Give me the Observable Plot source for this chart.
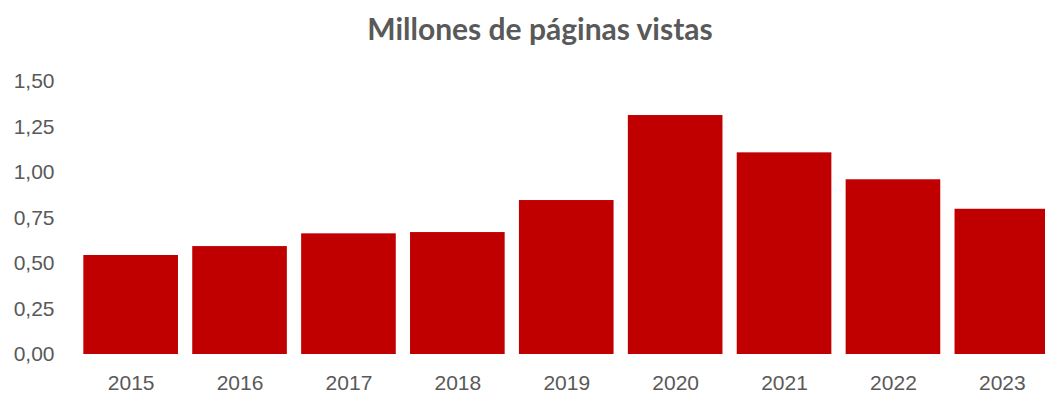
<!DOCTYPE html>
<html>
<head>
<meta charset="utf-8">
<script src="https://cdn.jsdelivr.net/npm/d3@7"></script>
<script src="https://cdn.jsdelivr.net/npm/@observablehq/plot@0.6"></script>
<style>
  html, body { margin: 0; padding: 0; background: #fff; }
  #wrap { width: 1045px; height: 394px; overflow: hidden; position: relative; }
  #title {
    position: relative; width: 1045px; height: 60px; box-sizing: border-box;
    padding-left: 35px; text-align: center;
    font-family: Lato, "Liberation Sans", sans-serif; font-weight: bold;
    font-size: 30px; color: #595959; line-height: 1;
  }
  #title span { position: relative; top: 13px; }
  svg { display: block; }
</style>
</head>
<body>
<div id="wrap">
  <div id="title"><span>Millones de páginas vistas</span></div>
  <div id="chart"></div>
</div>
<script>
const years = ["2015", "2016", "2017", "2018", "2019", "2020", "2021", "2022", "2023"];
const values = [0.544, 0.593, 0.663, 0.670, 0.846, 1.313, 1.108, 0.960, 0.798];
const yTicks = [0, 0.25, 0.5, 0.75, 1.0, 1.25, 1.5];

const data = years.map((y, i) => ({year: y, value: values[i]}));
const fmt = d3.format(".2f");
const comma = v => fmt(v).replace(".", ",");

const chart = Plot.plot({
  width: 1045,
  height: 334,
  marginLeft: 76,
  marginRight: 0,
  marginTop: 21,
  marginBottom: 40,
  style: {fontFamily: "'Liberation Sans', Arial, sans-serif", fontSize: "21px", color: "#595959", background: "#fff"},
  x: {type: "band", domain: years, range: [76.2, 1056.3], paddingInner: 0.131, paddingOuter: 0.0655, round: false, label: null},
  y: {domain: [0, 1.5], range: [294, 21], label: null},
  marks: [
    Plot.ruleY(yTicks, {x1: 76, x2: 1045, stroke: "#d9d9d9", strokeWidth: 1}),
    Plot.barY(data, {x: "year", y: "value", fill: "#c00000"}),
    Plot.axisY({ticks: yTicks, tickFormat: comma, tickSize: 0, tickPadding: 22, label: null, fill: "#595959"}),
    Plot.axisX({tickSize: 0, tickPadding: 21, label: null, fill: "#595959"})
  ]
});
document.getElementById("chart").appendChild(chart);
</script>
</body>
</html>
